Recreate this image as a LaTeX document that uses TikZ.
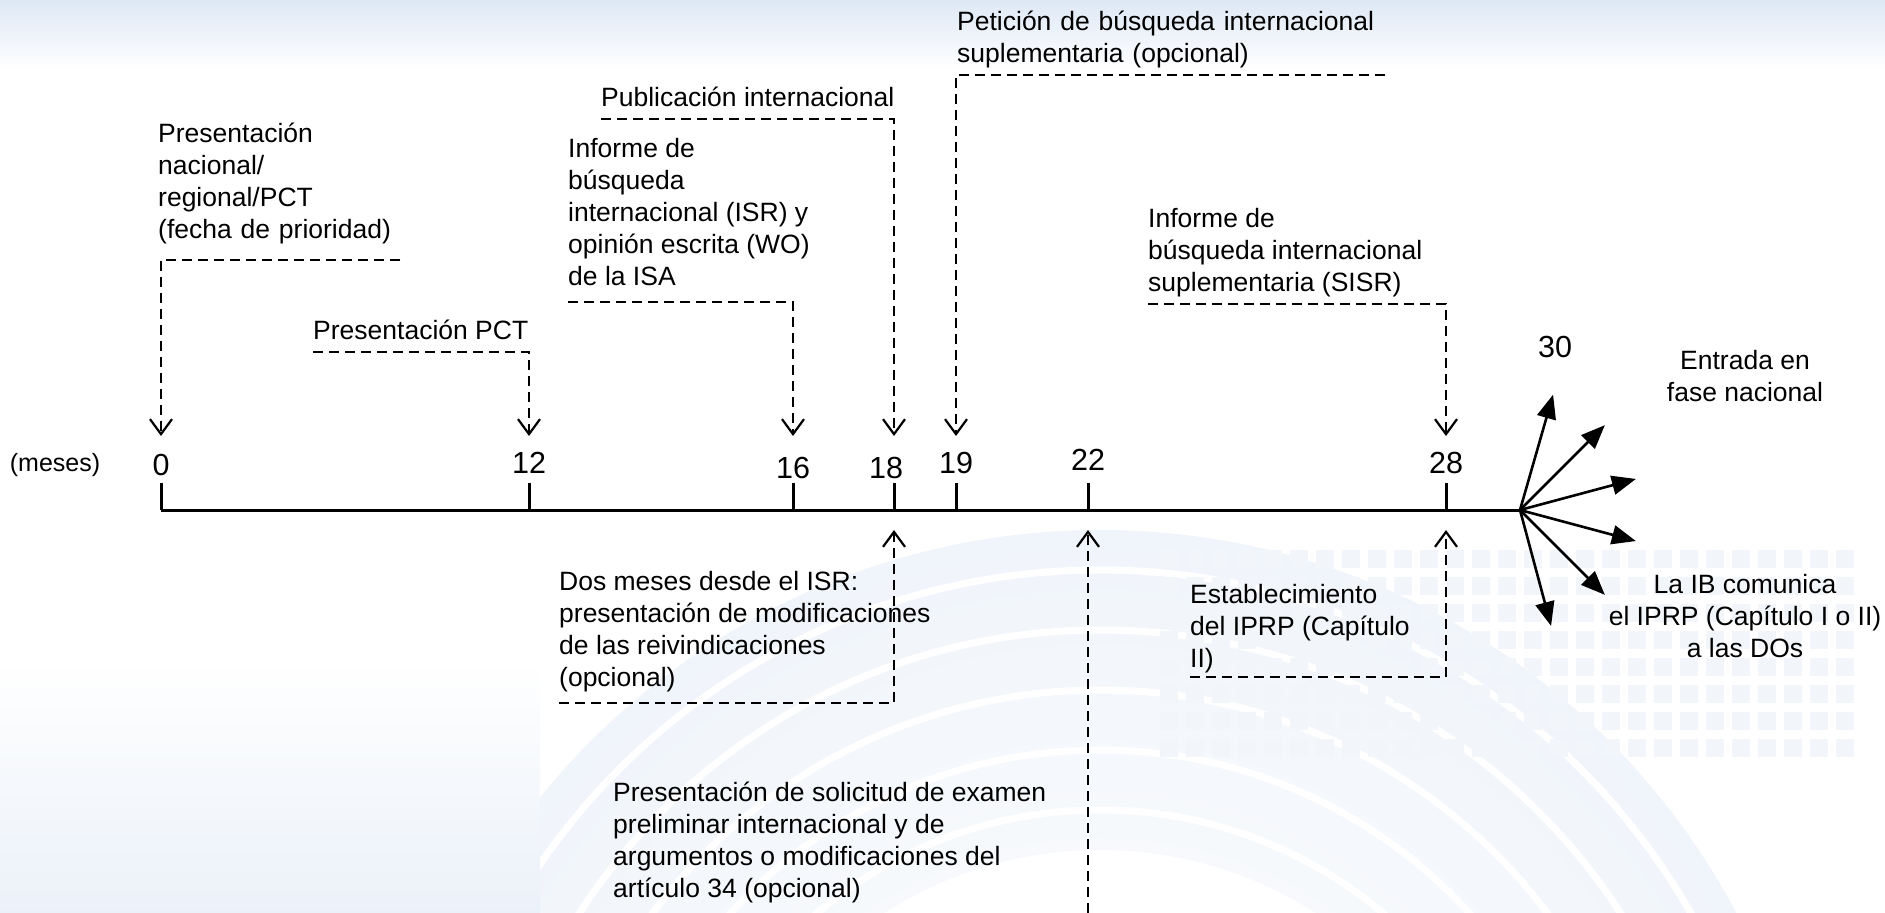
\documentclass[tikz,border=0pt]{standalone}
\usepackage{fontspec}
\setmainfont{Liberation Sans}
\usetikzlibrary{arrows.meta}
\definecolor{fondo}{RGB}{222,232,245}
\tikzset{
    txt/.style={font=\fontsize{26.5}{32}\selectfont, align=left, inner xsep=0pt, inner ysep=3pt,
      anchor=south west, execute at end node=\strut},
    num/.style={font=\fontsize{30.5}{36}\selectfont, inner sep=0pt},
    punt/.style={dash pattern=on 10pt off 6pt, line width=2.2pt,
      -{Straight Barb[length=15pt,width=22pt,line width=2.2pt]}},
    eje/.style={line width=3pt},
    flecha/.style={line width=2.6pt, -{Triangle[length=24pt,width=19pt]}},
  }
\begin{document}
\begin{tikzpicture}[x=1pt,y=-1pt]
  \useasboundingbox (0,0) rectangle (1885,913);
  %FONDO
  \shade[top color=fondo, bottom color=white] (0,0) rectangle (1885,70);
  \begin{scope}
    \clip (0,480) rectangle (1885,913);
    \shade[inner color=white, outer color=fondo!45] (1100,1250) circle (720);
    \fill[white] (1100,1250) circle (400);
    \foreach \r in {440,500,560,620,680}
      \draw[white, line width=7pt] (1100,1250) circle (\r);
  \end{scope}
  \shade[top color=white, bottom color=fondo!60] (0,660) rectangle (540,913);
  \foreach \i in {0,...,26}
    \foreach \j in {0,...,7}
      \fill[fondo!40] (1160+26*\i,550+27*\j) rectangle ++(18,18);

  %EJE
  \coordinate (fan) at (1520,510);
  \foreach \x/\m in {161/0,529/12,793/16,894/18,956/19,1088/22,1446/28}{
    \coordinate (t\m) at (\x,510);
    \coordinate (a\m) at (\x,436);
    \coordinate (b\m) at (\x,530);
    \draw[eje] (t\m) -- ++(0,-27);
  }
  \draw[eje] (t0) -- (fan);
  \node[font=\fontsize{25}{30}\selectfont] (meses) at (55,465) {(meses)};
  \node[num] (n0) at (161,465) {0};
  \node[num] (n12) at (529,463) {12};
  \node[num] (n16) at (793,468) {16};
  \node[num] (n18) at (886,468) {18};
  \node[num] (n19) at (956,463) {19};
  \node[num] (n22) at (1088,460) {22};
  \node[num] (n28) at (1446,463) {28};
  \node[num] (n30) at (1555,347) {30};

  %ARRIBA
  \node[txt, inner ysep=11.5pt, text width=242pt] (prio) at (158,260)
    {Presentación\\nacional/\\regional/PCT\\(fecha de prioridad)};
  \node[txt] (pct) at (313,352) {Presentación PCT};
  \node[txt, inner ysep=6.5pt] (isr) at (568,302)
    {Informe de\\búsqueda\\internacional (ISR) y\\opinión escrita (WO)\\de la ISA};
  \node[txt] (pub) at (601,119) {Publicación internacional};
  \node[txt, text width=428pt] (pet) at (957,75)
    {Petición de búsqueda internacional\\suplementaria (opcional)};
  \node[txt] (sisr) at (1148,304)
    {Informe de\\búsqueda internacional\\suplementaria (SISR)};

  \draw[punt] (prio.south east) -| (a0);
  \draw[punt] (pct.south west) -| (a12);
  \draw[punt] (isr.south west) -| (a16);
  \draw[punt] (pub.south west) -| (a18);
  \draw[punt] (pet.south east) -| (a19);
  \draw[punt] (sisr.south west) -| (a28);

  %ABAJO
  \node[txt, inner ysep=6.5pt] (dos) at (559,703)
    {Dos meses desde el ISR:\\presentación de modificaciones\\de las reivindicaciones\\(opcional)};
  \node[txt] (pres) at (613,910)
    {Presentación de solicitud de examen\\preliminar internacional y de\\argumentos o modificaciones del\\artículo 34 (opcional)};
  \node[txt, inner ysep=0pt] (est) at (1190,677)
    {Establecimiento\\del IPRP (Capítulo\\II)};
  \coordinate (pie22) at (1088,913);

  \draw[punt] (dos.south west) -| (b18);
  \draw[punt] (pie22) -- (b22);
  \draw[punt] (est.south west) -| (b28);

  %FASE NACIONAL
  \foreach \a in {-74,-45,-15,15,45,75}
    \draw[flecha] (fan) -- ++(\a:120);
  \node[txt, anchor=center, align=center, execute at end node={}] (fase) at (1745,381)
    {Entrada en\\fase nacional};
  \node[txt, anchor=center, align=center, execute at end node={}] (ib) at (1745,621)
    {La IB comunica\\el IPRP (Capítulo I o II)\\a las DOs};
\end{tikzpicture}
\end{document}
